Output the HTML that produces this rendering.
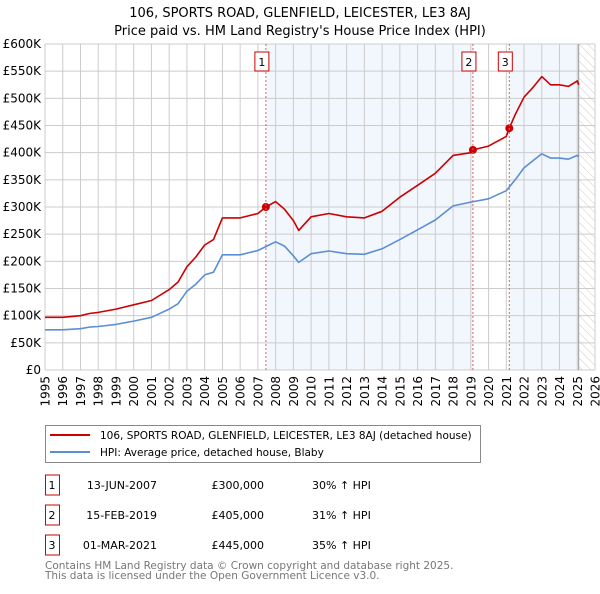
<!DOCTYPE html>
<html><head><meta charset="utf-8"><style>
body{margin:0;background:#fff;font-family:"DejaVu Sans","Liberation Sans",sans-serif;}
svg text{font-family:"DejaVu Sans","Liberation Sans",sans-serif;}
</style></head><body>
<svg id="chart" width="600" height="590" xmlns="http://www.w3.org/2000/svg">
<defs><pattern id="hatch" width="6" height="6" patternUnits="userSpaceOnUse" patternTransform="rotate(-45)"><line x1="0" y1="0" x2="0" y2="6" stroke="#ccc" stroke-width="1"/></pattern></defs>
<text x="300" y="17" text-anchor="middle" font-size="13">106, SPORTS ROAD, GLENFIELD, LEICESTER, LE3 8AJ</text>
<text x="300" y="35" text-anchor="middle" font-size="13">Price paid vs. HM Land Registry's House Price Index (HPI)</text>
<g id="shade"></g><g id="grid"></g><g id="axes"></g><g id="series"></g><g id="marks"></g>
<g>
<rect x="45.5" y="425.5" width="435" height="37" fill="#fff" stroke="#888"/>
<line x1="50" y1="435" x2="90" y2="435" stroke="#cc0000" stroke-width="2"/>
<text x="100" y="439" font-size="10.5">106, SPORTS ROAD, GLENFIELD, LEICESTER, LE3 8AJ (detached house)</text>
<line x1="50" y1="452" x2="90" y2="452" stroke="#5b8fd4" stroke-width="2"/>
<text x="100" y="456" font-size="10.5">HPI: Average price, detached house, Blaby</text>
</g>
<g id="table" font-size="11"></g>
<text x="45" y="569" font-size="10.5" fill="#777">Contains HM Land Registry data © Crown copyright and database right 2025.</text>
<text x="45" y="579" font-size="10.5" fill="#777">This data is licensed under the Open Government Licence v3.0.</text>
</svg>
<script>
const hpiYears=[1995,1996,1997,1997.5,1998,1999,2000,2001,2002,2002.5,2003,2003.5,2004,2004.5,2005,2006,2007,2007.5,2008,2008.5,2009,2009.3,2010,2011,2012,2013,2014,2015,2016,2017,2018,2019,2020,2021,2021.5,2022,2022.5,2023,2023.5,2024,2024.5,2025,2025.08];
const hpiValues=[74,74,76,79,80,84,90,97,112,122,145,158,175,180,212,212,220,228,236,228,210,198,214,219,214,213,223,240,258,276,302,309,315,330,350,372,385,398,390,390,388,395,392];
const redYears=[1995,1996,1997,1997.5,1998,1999,2000,2001,2002,2002.5,2003,2003.5,2004,2004.5,2005,2006,2007,2007.45,2008,2008.5,2009,2009.3,2010,2011,2012,2013,2014,2015,2016,2017,2018,2019,2019.12,2020,2021,2021.17,2021.5,2022,2022.5,2023,2023.5,2024,2024.5,2025,2025.08];
const redValues=[97,97,100,104,106,112,120,128,148,162,190,208,230,240,280,280,288,300,310,296,275,257,282,288,282,280,292,318,340,362,395,400,405,412,430,445,470,502,520,540,525,525,522,532,525];
const yTicks=[0,50,100,150,200,250,300,350,400,450,500,550,600];
const yTickLabels=["£0","£50K","£100K","£150K","£200K","£250K","£300K","£350K","£400K","£450K","£500K","£550K","£600K"];
const xTicks=[1995,1996,1997,1998,1999,2000,2001,2002,2003,2004,2005,2006,2007,2008,2009,2010,2011,2012,2013,2014,2015,2016,2017,2018,2019,2020,2021,2022,2023,2024,2025,2026];
const saleLabels=["1","2","3"];
const saleYears=[2007.45,2019.12,2021.17];
const salePrices=[300,405,445];
const saleDates=["13-JUN-2007","15-FEB-2019","01-MAR-2021"];
const salePriceText=["£300,000","£405,000","£445,000"];
const salePct=["30% ↑ HPI","31% ↑ HPI","35% ↑ HPI"];
const dataEnd=2025.08;

const NS="http://www.w3.org/2000/svg";
const X0=45,X1=595,Y0=370,Y1=44;
const xs=y=>X0+(y-1995)/(2026-1995)*(X1-X0);
const ys=v=>Y0-v/600*(Y0-Y1);
function mk(tag,attrs,parent){const e=document.createElementNS(NS,tag);for(const k in attrs)e.setAttribute(k,attrs[k]);parent.appendChild(e);return e;}
const shade=document.getElementById('shade'),grid=document.getElementById('grid'),axes=document.getElementById('axes'),series=document.getElementById('series'),marks=document.getElementById('marks'),table=document.getElementById('table');
let r=mk('rect',{x:X0,y:Y1,width:X1-X0,height:Y0-Y1,fill:'#fff'},shade);


r=mk('rect',{x:xs(saleYears[0]),y:Y1,width:xs(saleYears[1])-xs(saleYears[0]),height:Y0-Y1,fill:'#eef3fc',opacity:0.75},shade);


r=mk('rect',{x:xs(saleYears[2]),y:Y1,width:xs(dataEnd)-xs(saleYears[2]),height:Y0-Y1,fill:'#eef3fc',opacity:0.75},shade);


r=mk('rect',{x:xs(dataEnd),y:Y1,width:X1-xs(dataEnd),height:Y0-Y1,fill:'url(#hatch)'},shade);


yTicks.forEach((t,i)=>{
  const l=mk('line',{x1:X0,x2:X1,y1:ys(t),y2:ys(t),stroke:'#ccc','stroke-width':1},grid);
  
  
  const tx=mk('text',{x:41,y:ys(t)+4,'text-anchor':'end','font-size':12},axes);
  tx.textContent=yTickLabels[i];
  
  
});
xTicks.forEach(t=>{
  const l=mk('line',{x1:xs(t),x2:xs(t),y1:Y1,y2:Y0,stroke:'#ccc','stroke-width':1},grid);
  
  
  const px=xs(t)+4.5;
  const tx=mk('text',{x:px,y:376,'text-anchor':'end','font-size':12,transform:'rotate(-90 '+px+' 376)'},axes);
  tx.textContent=t;
  
  
});
const el=mk('line',{x1:xs(dataEnd),x2:xs(dataEnd),y1:Y1,y2:Y0,stroke:'#999','stroke-width':1},grid);


saleYears.forEach((y,i)=>{
  const l=mk('line',{x1:xs(y),x2:xs(y),y1:Y1,y2:Y0,stroke:'#e06060','stroke-width':1,'stroke-dasharray':'2,2'},marks);
  
  
  const b=mk('rect',{x:xs(y)-11,y:52,width:14,height:19,fill:'#fff',stroke:'#cc0000'},marks);
  
  
  const t=mk('text',{x:xs(y)-4,y:66,'text-anchor':'middle','font-size':11},marks);
  t.textContent=saleLabels[i];
  
  
});
function path(xa,va,color,name){
  const d=xa.map((y,i)=>(i?'L':'M')+xs(y).toFixed(1)+','+ys(va[i]).toFixed(1)).join('');
  const p=mk('path',{d:d,fill:'none',stroke:color,'stroke-width':1.6,'stroke-linejoin':'round'},series);
  
  
}
path(hpiYears,hpiValues,'#5b8fd4','hpi-line');
path(redYears,redValues,'#cc0000','price-paid-line');
saleYears.forEach((y,i)=>{
  const c=mk('circle',{cx:xs(y),cy:ys(salePrices[i]),r:4,fill:'#cc0000'},series);
  
  
});
saleLabels.forEach((s,i)=>{
  const yy=485+i*30;
  const b=mk('rect',{x:45.5,y:yy-10,width:14,height:20,fill:'#fff',stroke:'#cc0000'},table);
  
  
  const cells=[[52,'middle',s],[157,'end',saleDates[i]],[264,'end',salePriceText[i]],[312,'start',salePct[i]]];
  cells.forEach(c=>{
    const t=mk('text',{x:c[0],y:yy+4,'text-anchor':c[1]},table);
    t.textContent=c[2];
    
    
  });
});
</script>
</body></html>
